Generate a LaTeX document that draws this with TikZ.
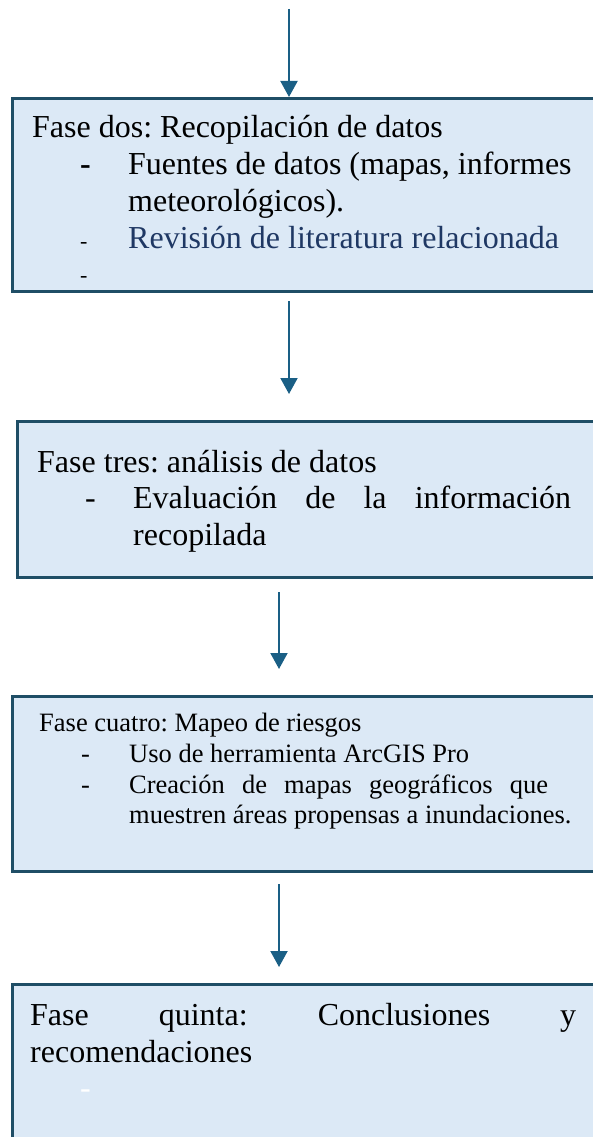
\documentclass[tikz,border=0pt]{standalone}
\usepackage{fontspec}
\setmainfont{Liberation Serif}
\usetikzlibrary{arrows.meta}
\definecolor{fasefill}{HTML}{DCE9F6}
\definecolor{faseborde}{HTML}{1F4E66}
\definecolor{flecha}{HTML}{1A5F85}
\definecolor{azuloscuro}{HTML}{1F3864}
\tikzset{
    fase/.style={draw=faseborde, line width=3pt, fill=fasefill, anchor=north west,
                 minimum width=600pt, inner sep=0pt},
    paso/.style={draw=flecha, line width=2pt, -{Triangle[width=17pt,length=16pt]}},
    linea/.style={anchor=base west, inner sep=0pt, font=\fontsize{32}{38}\selectfont},
    lineachica/.style={anchor=base west, inner sep=0pt, font=\fontsize{26.5}{31}\selectfont}
}
\newcommand{\guion}[1]{\makebox[48pt][l]{#1}}
\frenchspacing
\begin{document}
\begin{tikzpicture}[x=1pt,y=-1pt]
            \useasboundingbox (0,0) rectangle (593,1137);
            \clip (0,0) rectangle (593,1137);

            % cajas de las fases
            \node[fase, minimum height=193pt] (f2) at (11,97) {};
            \node[fase, minimum height=156pt] (f3) at (16,420) {};
            \node[fase, minimum height=175pt] (f4) at (11,695) {};
            \node[fase, minimum height=200pt] (f5) at (11,983) {};

            % flechas
            \coordinate (a1) at (289,9);
            \coordinate (a2) at (289,301);
            \coordinate (a3) at (279,592);
            \coordinate (a4) at (279,884);
            \draw[paso] (a1) -- (a1 |- f2.north);
            \draw[paso] (a2) -- ([yshift=26pt]a2 |- f3.north);
            \draw[paso] (a3) -- ([yshift=26pt]a3 |- f4.north);
            \draw[paso] (a4) -- ([yshift=16pt]a4 |- f5.north);

            % fase dos
            \begin{scope}[every node/.style={linea}]
                \node (t2a) at (32,138) {Fase dos: Recopilación de datos};
                \node (t2b) at (80,174) {\guion{\bfseries -}Fuentes de datos (mapas, informes};
                \node (t2c) at (128,211) {meteorológicos).};
                \node (t2d) at (80,248) {\guion{\fontsize{22}{26}\selectfont -}\textcolor{azuloscuro}{Revisión de literatura relacionada}};
                \node (t2e) at (80,282) {\fontsize{22}{26}\selectfont -};
            \end{scope}

            % fase tres
            \begin{scope}[every node/.style={linea}]
                \node (t3a) at (37,472) {Fase tres: análisis de datos};
                \node (t3b) at (85,508) {\guion{-}\makebox[438pt][s]{Evaluación de la información}};
                \node (t3c) at (133,545) {recopilada};
            \end{scope}

            % fase cuatro
            \begin{scope}[every node/.style={lineachica}]
                \node (t4a) at (39,731) {Fase cuatro: Mapeo de riesgos};
                \node (t4b) at (81,762) {\guion{-}Uso de herramienta ArcGIS Pro};
                \node (t4c) at (81,793) {\guion{-}\makebox[419pt][s]{Creación de mapas geográficos que}};
                \node (t4d) at (129,823) {muestren áreas propensas a inundaciones.};
            \end{scope}

            % fase cinco
            \begin{scope}[every node/.style={linea}]
                \node (t5a) at (30,1025) {\makebox[546pt][s]{Fase quinta: Conclusiones y}};
                \node (t5b) at (30,1062) {recomendaciones};
                \node (t5c) at (80,1098) {\textcolor{white}{-}};
            \end{scope}
        \end{tikzpicture}
\end{document}
